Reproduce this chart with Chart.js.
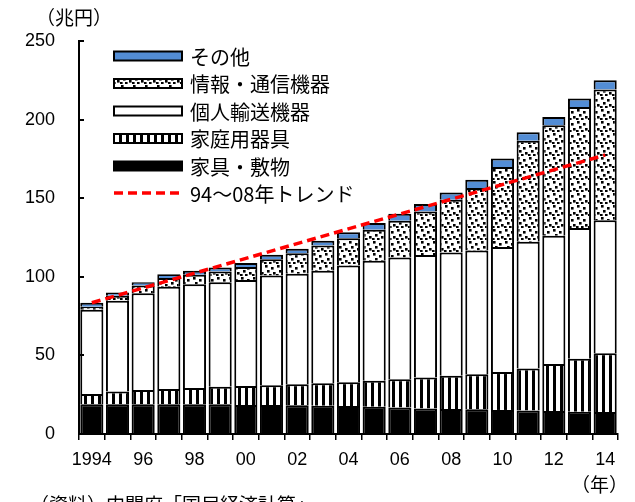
<!DOCTYPE html>
<html lang="ja">
<head>
<meta charset="utf-8">
<title>耐久財消費の推移</title>
<script src="https://cdn.jsdelivr.net/npm/chart.js@4"></script>
<style>
  html, body { margin: 0; padding: 0; background: #fff; }
  #wrap { width: 635px; height: 502px; position: relative; }
</style>
</head>
<body>
<div id="wrap"><canvas id="c" width="635" height="502"></canvas></div>
<script>
// 年（暦年）と横軸の目盛り表示
const years = [1994, 1995, 1996, 1997, 1998, 1999, 2000, 2001, 2002, 2003, 2004,
               2005, 2006, 2007, 2008, 2009, 2010, 2011, 2012, 2013, 2014];
const tickLabels = ['1994', '', '96', '', '98', '', '00', '', '02', '', '04',
                    '', '06', '', '08', '', '10', '', '12', '', '14'];

// 品目別の実質消費額（兆円）
const furniture  = [19, 19, 19, 19, 19, 19, 18.5, 18.5, 18.3, 18, 17.8,
                    17.4, 16.8, 16.3, 15.9, 15.7, 15.3, 14.9, 14.6, 14.2, 14];
const appliances = [6.5, 8, 9, 9.7, 10.3, 11, 12, 12.5, 13.3, 14.3, 15.1,
                    16.5, 18.1, 19.6, 21.1, 22.3, 24.1, 26.7, 29.9, 33.7, 37.4];
const transport  = [53.5, 57.7, 61.6, 64.9, 66, 66.6, 67.5, 69.8, 70.3, 71.5, 74.3,
                    76.3, 77.4, 77.9, 78.5, 78.8, 79.5, 80.7, 81.6, 83.1, 84.5];
const ictEquip   = [2, 3.2, 4.9, 5.6, 6, 6.8, 8.2, 10.4, 13.1, 16.1, 17.4,
                    19.8, 23.4, 27.8, 33.5, 39.7, 50.9, 64.3, 70.3, 77, 83.2];
const others     = [2.5, 2.1, 2.1, 2.5, 2.5, 2.5, 2.5, 2.8, 2.8, 3.1, 3.8,
                    4.2, 4.4, 4.7, 4.7, 5.3, 5.4, 5.3, 5.3, 5.4, 5.9];

// 94～08年トレンド（始点と終点、間は直線で結ぶ）
const trend = [83.5, null, null, null, null, null, null, null, null, null, null,
               null, null, null, null, null, null, null, null, null, 177.5];

// 縦軸
const yMin = 0, yMax = 250, yStep = 50;

// ハッチング用のパターン
function stripePattern() {
  const c = document.createElement('canvas');
  c.width = 7; c.height = 4;
  const g = c.getContext('2d');
  g.fillStyle = '#fff'; g.fillRect(0, 0, 7, 4);
  g.fillStyle = '#000'; g.fillRect(0, 0, 3, 4);
  return g.createPattern(c, 'repeat');
}
function dotPattern() {
  const c = document.createElement('canvas');
  c.width = 12; c.height = 12;
  const g = c.getContext('2d');
  g.fillStyle = '#fff'; g.fillRect(0, 0, 12, 12);
  g.fillStyle = '#000';
  [[1, 1], [7, 3], [3, 6], [9, 8], [0, 10], [5, 10]].forEach(([x, y]) => g.fillRect(x, y, 2.6, 2.6));
  return g.createPattern(c, 'repeat');
}
const stripes = stripePattern();
const dots = dotPattern();
const blue = '#538DD5';

const jpFont = '"Noto Sans CJK JP", "Noto Sans", sans-serif';

const barBase = {
  type: 'bar',
  borderColor: '#000',
  borderWidth: 2,
  order: 1,
  barPercentage: 0.9,
  categoryPercentage: 1.0
};

const datasets = [
  Object.assign({}, barBase, { label: '家具・敷物', data: furniture, backgroundColor: '#000' }),
  Object.assign({}, barBase, { label: '家庭用器具', data: appliances, backgroundColor: stripes }),
  Object.assign({}, barBase, { label: '個人輸送機器', data: transport, backgroundColor: '#fff' }),
  Object.assign({}, barBase, { label: '情報・通信機器', data: ictEquip, backgroundColor: dots }),
  Object.assign({}, barBase, { label: 'その他', data: others, backgroundColor: blue }),
  {
    type: 'line',
    label: '94～08年トレンド',
    data: trend,
    spanGaps: true,
    borderColor: '#FF0000',
    borderWidth: 3.5,
    borderDash: [9, 5],
    pointRadius: 0,
    fill: false,
    stack: 'trend',
    order: 0
  }
];

// 凡例・単位・出所の描画と縦軸の内向き目盛り
const decorations = {
  id: 'decorations',
  afterDraw(chart) {
    const ctx = chart.ctx;
    const ys = chart.scales.y;
    ctx.save();

    // 縦軸の内向き目盛り
    ctx.strokeStyle = '#000';
    ctx.lineWidth = 2;
    for (let v = yMin; v <= yMax; v += yStep) {
      const py = Math.round(ys.getPixelForValue(v));
      ctx.beginPath();
      ctx.moveTo(ys.right, py);
      ctx.lineTo(ys.right + 5, py);
      ctx.stroke();
    }

    // 凡例
    const boxX = 114, boxW = 68, boxH = 9, textX = 190;
    const rowY = [56, 83.5, 111, 138.5, 166, 193];
    const order = [4, 3, 2, 1, 0, 5];
    ctx.font = '20px ' + jpFont;
    ctx.textBaseline = 'middle';
    ctx.textAlign = 'left';
    order.forEach((di, k) => {
      const ds = chart.data.datasets[di];
      const cy = rowY[k];
      if (ds.type === 'line') {
        ctx.save();
        ctx.strokeStyle = ds.borderColor;
        ctx.lineWidth = ds.borderWidth;
        ctx.setLineDash(ds.borderDash);
        ctx.beginPath();
        ctx.moveTo(boxX, cy);
        ctx.lineTo(boxX + boxW + 1, cy);
        ctx.stroke();
        ctx.restore();
      } else {
        ctx.fillStyle = ds.backgroundColor;
        ctx.fillRect(boxX, cy - boxH / 2, boxW, boxH);
        ctx.strokeStyle = '#000';
        ctx.lineWidth = 2;
        ctx.strokeRect(boxX, cy - boxH / 2, boxW, boxH);
      }
      ctx.fillStyle = '#000';
      ctx.fillText(ds.label, textX, cy + 1);
    });

    // 単位と出所
    ctx.font = '19px ' + jpFont;
    ctx.fillStyle = '#000';
    ctx.textBaseline = 'middle';
    ctx.fillText('（兆円）', 36, 18);
    ctx.fillText('（年）', 571, 485);
    ctx.fillText('（資料）内閣府「国民経済計算」', 30, 505);
    ctx.restore();
  }
};

new Chart(document.getElementById('c'), {
  data: { labels: years, datasets },
  options: {
    responsive: false,
    animation: false,
    layout: { padding: { left: 0, right: 17, top: 41, bottom: 0 } },
    plugins: { legend: { display: false }, tooltip: { enabled: false } },
    scales: {
      x: {
        stacked: true,
        offset: true,
        grid: {
          offset: true,
          drawOnChartArea: false,
          drawTicks: true,
          tickLength: 6,
          color: '#000',
          lineWidth: 1.5
        },
        border: { display: true, color: '#000', width: 2 },
        ticks: {
          autoSkip: false,
          maxRotation: 0,
          padding: 9,
          color: '#000',
          font: { family: '"Liberation Sans", Arial, sans-serif', size: 18 },
          callback: (v, i) => tickLabels[i]
        },
        afterFit(scale) { scale.height = 68; }
      },
      y: {
        stacked: true,
        min: yMin,
        max: yMax,
        grid: { display: true, drawOnChartArea: false, drawTicks: false },
        border: { display: true, color: '#000', width: 2 },
        ticks: {
          stepSize: yStep,
          padding: 24,
          color: '#000',
          font: { family: '"Liberation Sans", Arial, sans-serif', size: 18 }
        },
        afterFit(scale) { scale.width = 79; }
      }
    }
  },
  plugins: [decorations]
});
</script>
</body>
</html>
